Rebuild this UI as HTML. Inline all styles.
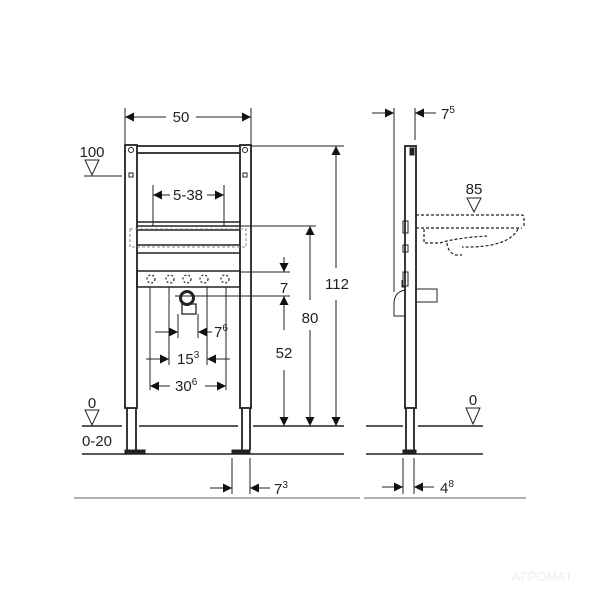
<!DOCTYPE html>
<html><head><meta charset="utf-8"><style>
html,body{margin:0;padding:0;background:#fff;width:600px;height:600px;overflow:hidden}
svg{display:block}
text{font-family:"Liberation Sans",sans-serif;fill:#222}
</style></head><body>
<svg width="600" height="600" viewBox="0 0 600 600" xmlns="http://www.w3.org/2000/svg">
<defs>
<marker id="a" viewBox="0 0 10 10" refX="10" refY="5" markerWidth="12" markerHeight="9" markerUnits="userSpaceOnUse" orient="auto"><path d="M0,0L10,5L0,10z" fill="#111"/></marker>
</defs>
<g stroke="#222" stroke-width="1" fill="none">
<line x1="125" y1="108" x2="125" y2="145"/><line x1="251" y1="108" x2="251" y2="145"/>
<line x1="166" y1="117" x2="125" y2="117" marker-end="url(#a)"/>
<line x1="196" y1="117" x2="251" y2="117" marker-end="url(#a)"/>
<line x1="84" y1="176" x2="122" y2="176"/>
<path d="M85,160L99,160L92,175z"/>
<g stroke-width="1.8">
<rect x="125" y="145" width="12" height="263"/>
<rect x="240" y="145" width="11" height="263"/>
<line x1="137" y1="146" x2="240" y2="146"/>
<line x1="137" y1="153" x2="240" y2="153"/>
<line x1="127" y1="408" x2="127" y2="450"/><line x1="136" y1="408" x2="136" y2="450"/>
<line x1="242" y1="408" x2="242" y2="450"/><line x1="250" y1="408" x2="250" y2="450"/>
</g>
<rect x="125" y="450" width="20" height="4" fill="#222"/>
<rect x="232" y="450" width="18" height="4" fill="#222"/>
<circle cx="131" cy="150" r="2.5"/><circle cx="245" cy="150" r="2.5"/>
<rect x="129" y="173" width="4" height="4"/><rect x="243" y="173" width="4" height="4"/>
<line x1="153" y1="185" x2="153" y2="226"/><line x1="224" y1="185" x2="224" y2="226"/>
<line x1="170" y1="195" x2="153" y2="195" marker-end="url(#a)"/>
<line x1="207" y1="195" x2="224" y2="195" marker-end="url(#a)"/>
<g stroke-width="1.5">
<line x1="137" y1="222" x2="240" y2="222"/><line x1="137" y1="226" x2="240" y2="226"/>
<line x1="137" y1="230" x2="240" y2="230"/><line x1="137" y1="245" x2="240" y2="245"/>
<line x1="137" y1="253" x2="240" y2="253"/>
<rect x="137" y="271" width="103" height="16"/>
</g>
<rect x="130" y="229" width="116" height="18" stroke="#888" stroke-dasharray="3,2"/>
<g stroke-width="1.2">
<circle cx="151" cy="279" r="4" stroke-dasharray="2,2"/><circle cx="170" cy="279" r="4" stroke-dasharray="2,2"/>
<circle cx="187" cy="279" r="4" stroke-dasharray="2,2"/><circle cx="204" cy="279" r="4" stroke-dasharray="2,2"/>
<circle cx="225" cy="279" r="4" stroke-dasharray="2,2"/>
</g>
<circle cx="187" cy="298" r="6.5" stroke-width="3"/>
<rect x="182" y="304" width="14" height="10" stroke-width="1.3"/>
<line x1="150" y1="287" x2="150" y2="390"/><line x1="169" y1="287" x2="169" y2="365"/>
<line x1="207" y1="287" x2="207" y2="365"/><line x1="226" y1="287" x2="226" y2="390"/>
<line x1="178" y1="314" x2="178" y2="338"/><line x1="198" y1="314" x2="198" y2="338"/>
<line x1="155" y1="332" x2="178" y2="332" marker-end="url(#a)"/>
<line x1="212" y1="332" x2="198" y2="332" marker-end="url(#a)"/>
<line x1="146" y1="359" x2="169" y2="359" marker-end="url(#a)"/>
<line x1="230" y1="359" x2="207" y2="359" marker-end="url(#a)"/>
<line x1="170" y1="386" x2="150" y2="386" marker-end="url(#a)"/>
<line x1="205" y1="386" x2="226" y2="386" marker-end="url(#a)"/>
<line x1="251" y1="146" x2="344" y2="146"/>
<line x1="240" y1="226" x2="316" y2="226"/>
<line x1="240" y1="272" x2="290" y2="272"/>
<line x1="175" y1="296" x2="290" y2="296"/>
<line x1="336" y1="268" x2="336" y2="146" marker-end="url(#a)"/>
<line x1="336" y1="300" x2="336" y2="426" marker-end="url(#a)"/>
<line x1="310" y1="300" x2="310" y2="226" marker-end="url(#a)"/>
<line x1="310" y1="330" x2="310" y2="426" marker-end="url(#a)"/>
<line x1="284" y1="257" x2="284" y2="272" marker-end="url(#a)"/>
<line x1="284" y1="330" x2="284" y2="296" marker-end="url(#a)"/>
<line x1="284" y1="370" x2="284" y2="426" marker-end="url(#a)"/>
<g stroke-width="1.5">
<line x1="82" y1="426" x2="122" y2="426"/><line x1="139" y1="426" x2="238" y2="426"/><line x1="253" y1="426" x2="344" y2="426"/>
<line x1="82" y1="454" x2="344" y2="454"/>
<line x1="366" y1="426" x2="403" y2="426"/><line x1="418" y1="426" x2="483" y2="426"/>
<line x1="366" y1="454" x2="483" y2="454"/>
</g>
<path d="M85,410L99,410L92,425z"/>
<line x1="232" y1="458" x2="232" y2="494"/><line x1="250" y1="458" x2="250" y2="494"/>
<line x1="210" y1="488" x2="232" y2="488" marker-end="url(#a)"/>
<line x1="270" y1="488" x2="250" y2="488" marker-end="url(#a)"/>
<line x1="74" y1="498" x2="360" y2="498" stroke="#999" stroke-width="1.5"/>
<g stroke-width="1.8">
<rect x="405" y="146" width="11" height="262"/>
<line x1="406" y1="408" x2="406" y2="451"/><line x1="414" y1="408" x2="414" y2="451"/>
</g>
<rect x="403" y="450" width="13" height="4" fill="#222"/>
<rect x="410" y="148" width="4" height="7" fill="#222"/>
<line x1="394" y1="108" x2="394" y2="292"/><line x1="415" y1="108" x2="415" y2="140"/>
<line x1="372" y1="113" x2="394" y2="113" marker-end="url(#a)"/>
<line x1="436" y1="113" x2="415" y2="113" marker-end="url(#a)"/>
<path d="M467,198L481,198L474,212z"/>
<g stroke-dasharray="3,2" stroke-width="1.2">
<path d="M416,215L522,215Q524,215 524,218L524,228"/>
<line x1="416" y1="228" x2="522" y2="228"/>
<path d="M424,229L424,243L440,243"/>
<path d="M518,229Q508,248 462,247"/>
<path d="M440,243Q455,238 487,236"/>
<path d="M447,243Q448,252 455,255L462,255"/>
</g>
<rect x="403" y="221" width="5" height="12"/><rect x="403" y="245" width="5" height="7"/>
<rect x="403" y="272" width="5" height="14"/>
<path d="M405,287L402,287L402,280"/>
<path d="M405,290Q394,292 394,304L394,316L405,316"/>
<rect x="416" y="289" width="21" height="13"/>
<path d="M466,408L480,408L473,424z"/>
<line x1="403" y1="458" x2="403" y2="494"/><line x1="414" y1="458" x2="414" y2="494"/>
<line x1="382" y1="487" x2="403" y2="487" marker-end="url(#a)"/>
<line x1="434" y1="487" x2="414" y2="487" marker-end="url(#a)"/>
<line x1="364" y1="498" x2="526" y2="498" stroke="#999" stroke-width="1.5"/>
</g>
<g font-size="15">
<text x="181" y="122" text-anchor="middle">50</text>
<text x="92" y="157" text-anchor="middle">100</text>
<text x="188" y="200" text-anchor="middle">5-38</text>
<text x="284" y="293" text-anchor="middle">7</text>
<text x="337" y="289" text-anchor="middle">112</text>
<text x="310" y="323" text-anchor="middle">80</text>
<text x="284" y="358" text-anchor="middle">52</text>
<text x="214" y="337">7<tspan font-size="10" dy="-6">6</tspan></text>
<text x="177" y="364">15<tspan font-size="10" dy="-6">3</tspan></text>
<text x="175" y="391">30<tspan font-size="10" dy="-6">6</tspan></text>
<text x="92" y="408" text-anchor="middle">0</text>
<text x="82" y="446">0-20</text>
<text x="274" y="494">7<tspan font-size="10" dy="-6">3</tspan></text>
<text x="441" y="119">7<tspan font-size="10" dy="-6">5</tspan></text>
<text x="474" y="194" text-anchor="middle">85</text>
<text x="473" y="405" text-anchor="middle">0</text>
<text x="440" y="493">4<tspan font-size="10" dy="-6">8</tspan></text>
</g>
<text x="512" y="581" font-size="13" style="fill:#eee">АГРОМАТ</text>
</svg>
</body></html>
